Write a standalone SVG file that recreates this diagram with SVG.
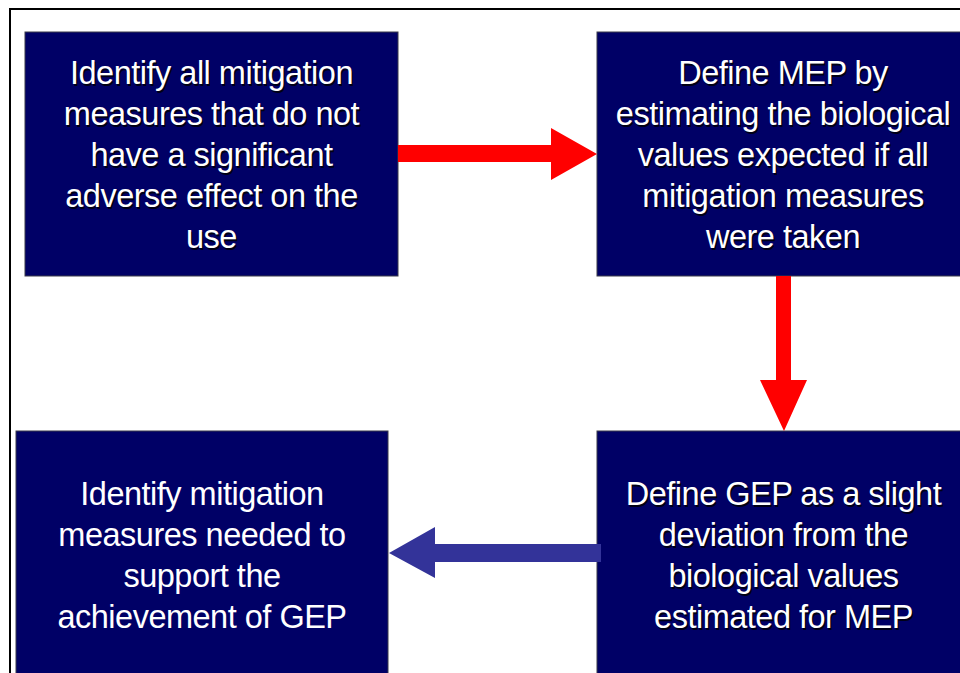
<svg xmlns="http://www.w3.org/2000/svg" width="960" height="673" viewBox="0 0 960 673">
<style>
.box{fill:#000066;stroke:#3a3a4a;stroke-width:1}
.t{font-family:"Liberation Sans",Arial,sans-serif;font-size:32.5px;letter-spacing:-0.5px;fill:#ffffff;text-anchor:middle}
.sh{fill:#000000;fill-opacity:0.8}
</style>
<rect x="0" y="0" width="960" height="673" fill="#ffffff"/>
<path d="M10,673 V9 H960" fill="none" stroke="#000" stroke-width="2"/>
<g id="node1">
<rect class="box" x="25" y="32" width="373" height="244"/>
<g class="t sh" transform="translate(1.5,1.5)">
<text x="211.5" y="84">Identify all mitigation</text>
<text x="211.5" y="125">measures that do not</text>
<text x="211.5" y="166">have a significant</text>
<text x="211.5" y="207">adverse effect on the</text>
<text x="211.5" y="248">use</text>
</g>
<g class="t">
<text x="211.5" y="84">Identify all mitigation</text>
<text x="211.5" y="125">measures that do not</text>
<text x="211.5" y="166">have a significant</text>
<text x="211.5" y="207">adverse effect on the</text>
<text x="211.5" y="248">use</text>
</g>
</g>
<g id="node2">
<rect class="box" x="597" y="32" width="373" height="244"/>
<g class="t sh" transform="translate(1.5,1.5)">
<text x="783" y="84">Define MEP by</text>
<text x="783" y="125">estimating the biological</text>
<text x="783" y="166">values expected if all</text>
<text x="783" y="207">mitigation measures</text>
<text x="783" y="248">were taken</text>
</g>
<g class="t">
<text x="783" y="84">Define MEP by</text>
<text x="783" y="125">estimating the biological</text>
<text x="783" y="166">values expected if all</text>
<text x="783" y="207">mitigation measures</text>
<text x="783" y="248">were taken</text>
</g>
</g>
<g id="node3">
<rect class="box" x="597" y="431" width="373" height="250"/>
<g class="t sh" transform="translate(1.5,1.5)">
<text x="783.5" y="505">Define GEP as a slight</text>
<text x="783.5" y="546">deviation from the</text>
<text x="783.5" y="587">biological values</text>
<text x="783.5" y="628">estimated for MEP</text>
</g>
<g class="t">
<text x="783.5" y="505">Define GEP as a slight</text>
<text x="783.5" y="546">deviation from the</text>
<text x="783.5" y="587">biological values</text>
<text x="783.5" y="628">estimated for MEP</text>
</g>
</g>
<g id="node4">
<rect class="box" x="16" y="431" width="372" height="250"/>
<g class="t">
<text x="202" y="505">Identify mitigation</text>
<text x="202" y="546">measures needed to</text>
<text x="202" y="587">support the</text>
<text x="202" y="628">achievement of GEP</text>
</g>
</g>
<g id="connectors">
<polygon points="398,145 551,145 551,128 597,154 551,180 551,162 398,162" fill="#ff0000"/>
<polygon points="776,276 791,276 791,380 807,380 784,431 760,380 776,380" fill="#ff0000"/>
<polygon points="601,544 435,544 435,527 389,553 435,578 435,562 601,562" fill="#333399"/>
</g>
</svg>
